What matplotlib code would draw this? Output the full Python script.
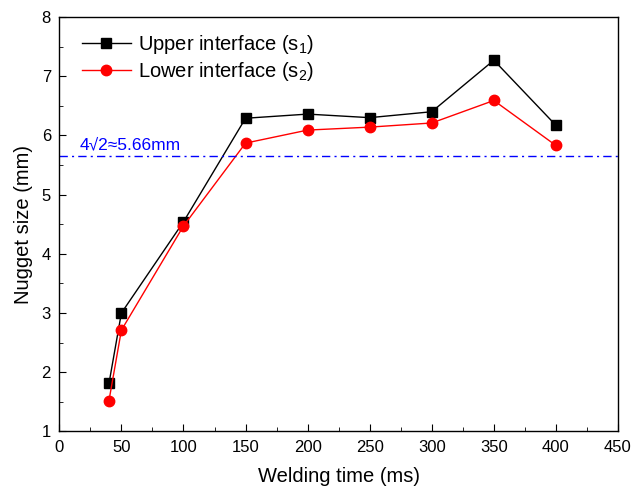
import matplotlib.pyplot as plt
from matplotlib.ticker import MultipleLocator

plt.rcParams['font.family'] = ['Liberation Sans', 'DejaVu Sans']
plt.rcParams['mathtext.fontset'] = 'custom'
plt.rcParams['mathtext.rm'] = 'Liberation Sans'

# welding time (ms) and nugget diameters (mm)
weld_time = [40, 50, 100, 150, 200, 250, 300, 350, 400]
upper = [1.81, 3.00, 4.54, 6.29, 6.36, 6.30, 6.40, 7.27, 6.17]
lower = [1.52, 2.71, 4.47, 5.87, 6.09, 6.14, 6.21, 6.59, 5.83]
critical = 5.66
critical_label = '4\u221a2\u22485.66mm'

fig = plt.figure(figsize=(6.33, 4.96), dpi=100)
ax = fig.add_axes([0.0937, 0.1302, 0.8826, 0.8355])

ax.plot(weld_time, upper, '-s', color='black', lw=1.0, ms=6.5,
        label=r'Upper interface ($\mathregular{s_1}$)')
ax.plot(weld_time, lower, '-o', color='red', lw=1.0, ms=7.5,
        label=r'Lower interface ($\mathregular{s_2}$)')
ax.axhline(critical, color='blue', ls=(0, (6, 3, 1.5, 3)), lw=1.0)
ax.text(16, critical + 0.1, critical_label, color='blue', fontsize=12.5)

ax.set_xlim(0, 450)
ax.set_ylim(1, 8)
ax.xaxis.set_major_locator(MultipleLocator(50))
ax.xaxis.set_minor_locator(MultipleLocator(25))
ax.yaxis.set_major_locator(MultipleLocator(1))
ax.yaxis.set_minor_locator(MultipleLocator(0.5))
ax.tick_params(which='both', direction='in', labelsize=12, pad=6)
ax.tick_params(which='major', length=5)
ax.tick_params(which='minor', length=3)
for s in ax.spines.values():
    s.set_linewidth(1.0)

ax.set_xlabel('Welding time (ms)', fontsize=14.5, labelpad=9)
ax.set_ylabel('Nugget size (mm)', fontsize=14.5, labelpad=6)

ax.legend(loc='upper left', frameon=False, fontsize=14.5,
          handlelength=2.4, borderaxespad=0, borderpad=0,
          labelspacing=0.2, handletextpad=0.35,
          bbox_to_anchor=(0.041, 0.962))

fig.savefig('out.png', dpi=100)
